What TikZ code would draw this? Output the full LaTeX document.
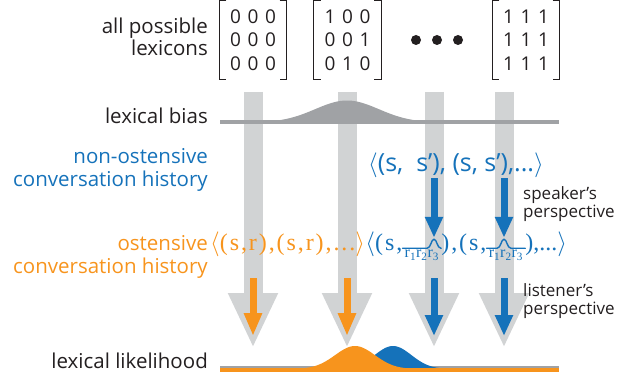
\documentclass[tikz,border=0pt]{standalone}
\usepackage{fontspec}
\setmainfont{Open Sans}
\newfontfamily\serifset[LetterSpace=8]{Liberation Serif}
\newfontfamily\serifplain{Liberation Serif}
\usetikzlibrary{matrix,calc,arrows.meta}

\definecolor{inkdark}{RGB}{35,31,32}
\definecolor{barGray}{RGB}{209,211,212}
\definecolor{biasGray}{RGB}{160,162,165}
\definecolor{ostOrange}{RGB}{247,148,29}
\definecolor{nonBlue}{RGB}{21,114,186}

\tikzset{
    rowlabel/.style={anchor=east, align=right, inner sep=0pt, text=inkdark,
        font=\fontsize{20.5}{22.5}\selectfont},
    note/.style={anchor=west, align=left, inner sep=0pt, text=inkdark,
        font=\fontsize{17}{17.5}\selectfont},
    digit/.style={inner sep=0pt, minimum width=11pt, text height=15pt, text depth=1pt,
        text=inkdark, font=\fontsize{19}{22}\selectfont},
    lexmat/.style={matrix of nodes, nodes=digit, column sep=6.5pt, row sep=7.5pt,
        inner xsep=10.5pt, inner ysep=8pt},
    bracket/.style={draw=inkdark, line width=1.3pt},
    tuple/.style={anchor=base west, inner sep=0pt, font=\serifset\fontsize{24}{24}\selectfont},
    rgroup/.style={anchor=base west, inner xsep=2pt, inner ysep=2pt, text=nonBlue,
        font=\serifset\fontsize{16}{16}\selectfont},
    bar/.style={draw=barGray, line width=19pt, -{Triangle[width=46pt, length=55pt]}},
    ostarrow/.style={draw=ostOrange, line width=7pt, -{Triangle[width=17pt, length=23pt]}},
    nonarrow/.style={draw=nonBlue, line width=7pt, -{Triangle[width=17pt, length=21pt]}},
    hat/.style={draw=nonBlue, line width=1.4pt, line cap=round},
}

\begin{document}
\begin{tikzpicture}[x=1pt, y=-1pt]
    \useasboundingbox (0,0) rectangle (631,379);

    % columns
    \coordinate (c1) at (253,0);
    \coordinate (c2) at (347,0);
    \coordinate (c3) at (434,0);
    \coordinate (c4) at (504,0);
    \coordinate (barTop) at (0,92);
    \coordinate (barTip) at (0,348);
    \coordinate (histBase) at (0,278);
    \coordinate (colTip) at (0,336);

    % lexicons
    \matrix (lexA) [lexmat] at (253,40) {0 & 0 & 0\\ 0 & 0 & 0\\ 0 & 0 & 0\\};
    \matrix (lexB) [lexmat] at (347.5,40) {1 & 0 & 0\\ 0 & 0 & 1\\ 0 & 1 & 0\\};
    \matrix (lexC) [lexmat] at (526,40) {1 & 1 & 1\\ 1 & 1 & 1\\ 1 & 1 & 1\\};
    \foreach \m in {lexA,lexB,lexC}{
        \draw[bracket] ([xshift=7pt]\m.north west) -- (\m.north west) -- (\m.south west) -- ([xshift=7pt]\m.south west);
        \draw[bracket] ([xshift=-7pt]\m.north east) -- (\m.north east) -- (\m.south east) -- ([xshift=-7pt]\m.south east);}
    \foreach \x in {416,437,458}
        \fill[inkdark] (\x,40) circle (5pt);

    % gray columns
    \foreach \c in {1,...,4}
        \draw[bar] (c\c |- barTop) -- (c\c |- barTip);

    % lexical bias
    \fill[biasGray] (230,122.5) -- plot[domain=230:465, samples=80] (\x,{122.5-22*exp(-pow((\x-347)/45,2))}) -- cycle;
    \draw[biasGray, line width=4pt] (220,122.5) -- (559,122.5);

    % lexical likelihood
    \draw[biasGray, line width=1.5pt] (220,367) -- (559,367);
    \fill[nonBlue] (330,369) -- plot[domain=330:470, samples=80] (\x,{369-23*exp(-pow((\x-393)/26,2))}) -- cycle;
    \fill[ostOrange] (280,369) -- plot[domain=280:430, samples=80] (\x,{369-23*exp(-pow((\x-355)/28,2))}) -- cycle;
    \draw[ostOrange, line width=4pt] (220,370) -- (559,370);

    % labels
    \node[rowlabel] (lexlab) at (208,37) {all possible\\lexicons};
    \node[rowlabel] (biaslab) at (208,116) {lexical bias};
    \node[rowlabel, text=nonBlue] (nonlab) at (208,170) {non-ostensive\\conversation history};
    \node[rowlabel, text=ostOrange] (ostlab) at (208,257) {ostensive\\conversation history};
    \node[rowlabel] (liklab) at (208,361) {lexical likelihood};

    % histories
    \node[tuple, text=nonBlue, font=\fontsize{25}{25}\selectfont] (nontup) at (368,172) {$\langle$(s,\ \ s’), (s,\ s’),...$\rangle$};
    \node[tuple, text=ostOrange] (osttup) at (210,251) {$\langle$(s,r),(s,r),...$\rangle$};
    \node[tuple, text=nonBlue] (lisA) at (osttup.base east) {$\langle$(s,};
    \node[rgroup] (rA) at ([yshift=-7pt]lisA.base east) {r\textsubscript{1}r\textsubscript{2}r\textsubscript{3}};
    \node[tuple, text=nonBlue] (lisB) at ([yshift=7pt]rA.base east) {),(s,};
    \node[rgroup] (rB) at ([yshift=-7pt]lisB.base east) {r\textsubscript{1}r\textsubscript{2}r\textsubscript{3}};
    \node[tuple, text=nonBlue, font=\serifplain\fontsize{24}{24}\selectfont] (lisC) at ([yshift=7pt]rB.base east) {),...$\rangle$};

    \coordinate (peakA) at ($(c3 |- rA.north)+(0,-9)$);
    \coordinate (peakB) at ($(c4 |- rB.north)+(0,-9)$);
    \foreach \r/\p in {rA/peakA, rB/peakB}
        \draw[hat] (\r.north west) -- ($(\p)+(-7,9)$) .. controls +(4,0) and +(-3,0) .. (\p)
            .. controls +(3,0) and +(-4,0) .. ($(\p)+(7,9)$) -- (\r.north east);

    % perspectives
    \draw[nonarrow, shorten >=1.5pt] (c3 |- nontup.south) -- (peakA);
    \draw[nonarrow, shorten >=1.5pt] (c4 |- nontup.south) -- (peakB);
    \node[note] (spk) at (523,204) {speaker’s\\perspective};

    \draw[ostarrow] (c1 |- histBase) -- (c1 |- colTip);
    \draw[ostarrow] (c2 |- histBase) -- (c2 |- colTip);
    \draw[nonarrow] (c3 |- histBase) -- (c3 |- colTip);
    \draw[nonarrow] (c4 |- histBase) -- (c4 |- colTip);
    \node[note] (lis) at (523,301) {listener’s\\perspective};

\end{tikzpicture}
\end{document}
